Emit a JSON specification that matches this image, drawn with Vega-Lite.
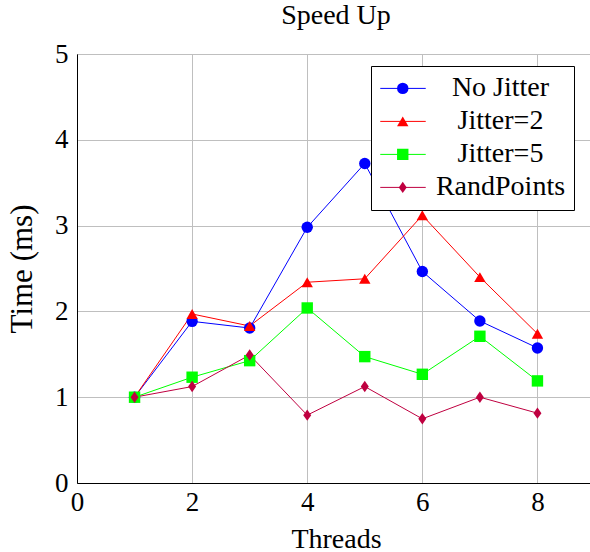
{
  "$schema": "https://vega.github.io/schema/vega-lite/v6.json",
  "width": 518,
  "height": 429,
  "autosize": {"type": "none"},
  "padding": {"left": 77, "top": 54, "right": 0, "bottom": 69},
  "title": {"text": "Speed Up", "font": "Liberation Serif", "fontSize": 28, "fontWeight": "normal", "color": "black", "anchor": "middle", "offset": 10},
  "data": {
    "values": [
      {"threads": 1, "value": 1.0, "series": "No Jitter"},
      {"threads": 2, "value": 1.884, "series": "No Jitter"},
      {"threads": 3, "value": 1.806, "series": "No Jitter"},
      {"threads": 4, "value": 2.98, "series": "No Jitter"},
      {"threads": 5, "value": 3.724, "series": "No Jitter"},
      {"threads": 6, "value": 2.465, "series": "No Jitter"},
      {"threads": 7, "value": 1.888, "series": "No Jitter"},
      {"threads": 8, "value": 1.574, "series": "No Jitter"},
      {"threads": 1, "value": 1.0, "series": "Jitter=2"},
      {"threads": 2, "value": 1.97, "series": "Jitter=2"},
      {"threads": 3, "value": 1.83, "series": "Jitter=2"},
      {"threads": 4, "value": 2.34, "series": "Jitter=2"},
      {"threads": 5, "value": 2.38, "series": "Jitter=2"},
      {"threads": 6, "value": 3.12, "series": "Jitter=2"},
      {"threads": 7, "value": 2.4, "series": "Jitter=2"},
      {"threads": 8, "value": 1.74, "series": "Jitter=2"},
      {"threads": 1, "value": 1.0, "series": "Jitter=5"},
      {"threads": 2, "value": 1.233, "series": "Jitter=5"},
      {"threads": 3, "value": 1.426, "series": "Jitter=5"},
      {"threads": 4, "value": 2.04, "series": "Jitter=5"},
      {"threads": 5, "value": 1.473, "series": "Jitter=5"},
      {"threads": 6, "value": 1.267, "series": "Jitter=5"},
      {"threads": 7, "value": 1.71, "series": "Jitter=5"},
      {"threads": 8, "value": 1.19, "series": "Jitter=5"},
      {"threads": 1, "value": 1.0, "series": "RandPoints"},
      {"threads": 2, "value": 1.124, "series": "RandPoints"},
      {"threads": 3, "value": 1.492, "series": "RandPoints"},
      {"threads": 4, "value": 0.791, "series": "RandPoints"},
      {"threads": 5, "value": 1.124, "series": "RandPoints"},
      {"threads": 6, "value": 0.748, "series": "RandPoints"},
      {"threads": 7, "value": 1.0, "series": "RandPoints"},
      {"threads": 8, "value": 0.814, "series": "RandPoints"}
    ]
  },
  "encoding": {
    "x": {
      "field": "threads", "type": "quantitative",
      "scale": {"domain": [0, 9], "nice": false, "zero": false},
      "axis": {"values": [0, 2, 4, 6, 8], "title": "Threads", "titlePadding": 10, "labelPadding": 6, "titleFontSize": 28, "labelFlush": false}
    },
    "y": {
      "field": "value", "type": "quantitative",
      "scale": {"domain": [0, 5], "nice": false},
      "axis": {"values": [0, 1, 2, 3, 4, 5], "title": "Time (ms)", "titlePadding": 16, "labelPadding": 9, "titleFontSize": 31, "labelFlush": false}
    }
  },
  "layer": [
    {
      "mark": {"type": "line", "strokeWidth": 1},
      "encoding": {
        "color": {
          "field": "series", "type": "nominal",
          "scale": {"domain": ["No Jitter", "Jitter=2", "Jitter=5", "RandPoints"], "range": ["#0000ff", "#ff0000", "#00ff00", "#bf0040"]},
          "legend": {
            "title": "\u00a0", "titleOrient": "right", "titleFontSize": 28, "titlePadding": 3,
            "orient": "none", "legendX": 294, "legendY": 12,
            "symbolType": "stroke", "symbolSize": 2070, "symbolStrokeWidth": 1, "symbolOffset": 2.5,
            "padding": 6, "clipHeight": 32.8, "rowPadding": 0, "labelAlign": "center", "labelOffset": 74,
            "labelFont": "Liberation Serif", "labelFontSize": 28, "labelColor": "black",
            "fillColor": "white", "strokeColor": "black"
          }
        }
      }
    },
    {
      "mark": {"type": "point", "filled": true, "opacity": 1, "size": 130},
      "encoding": {
        "color": {
          "field": "series", "type": "nominal",
          "scale": {"domain": ["No Jitter", "Jitter=2", "Jitter=5", "RandPoints"], "range": ["#0000ff", "#ff0000", "#00ff00", "#bf0040"]},
          "legend": {
            "title": null, "orient": "none", "legendX": 294, "legendY": 12,
            "symbolSize": 130, "symbolStrokeWidth": 0, "symbolOffset": 19.75,
            "padding": 6, "clipHeight": 32.8, "rowPadding": 0, "labelExpr": "''"
          }
        },
        "shape": {
          "field": "series", "type": "nominal",
          "scale": {"domain": ["No Jitter", "Jitter=2", "Jitter=5", "RandPoints"], "range": ["circle", "triangle-up", "square", "M0,-1L0.7,0L0,1L-0.7,0Z"]},
          "legend": {
            "title": null, "orient": "none", "legendX": 294, "legendY": 12,
            "symbolSize": 130, "symbolStrokeWidth": 0, "symbolOffset": 19.75,
            "padding": 6, "clipHeight": 32.8, "rowPadding": 0, "labelExpr": "''"
          }
        }
      }
    }
  ],
  "resolve": {"legend": {"color": "independent", "shape": "independent"}},
  "config": {
    "view": {"stroke": "black", "strokeWidth": 1},
    "axis": {
      "grid": true, "gridColor": "#bfbfbf", "gridWidth": 1, "gridOpacity": 1,
      "domainColor": "black", "domainWidth": 1,
      "ticks": false, "tickSize": 0,
      "labelFont": "Liberation Serif", "labelFontSize": 27, "labelColor": "black",
      "titleFont": "Liberation Serif", "titleFontSize": 28, "titleFontWeight": "normal", "titleColor": "black"
    }
  }
}
